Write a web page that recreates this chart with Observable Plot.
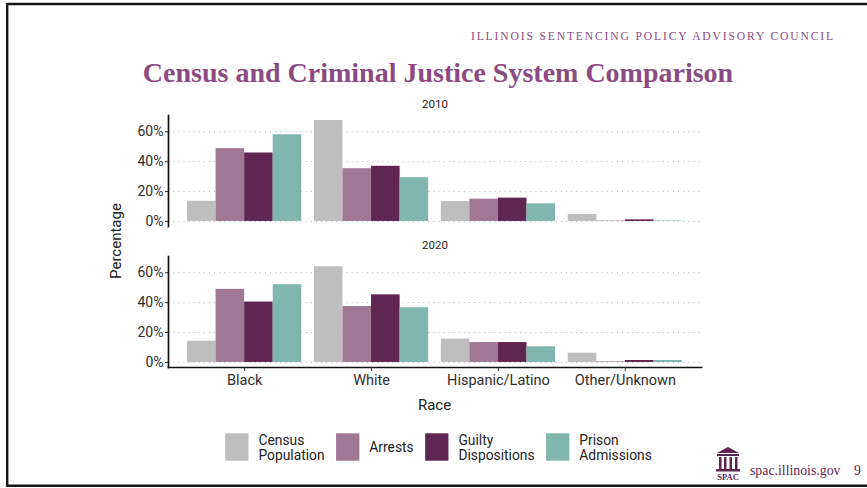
<!DOCTYPE html>
<html>
<head>
<meta charset="utf-8">
<script src="https://cdn.jsdelivr.net/npm/d3@7"></script>
<script src="https://cdn.jsdelivr.net/npm/@observablehq/plot@0.6"></script>
<style>
  html, body { margin: 0; padding: 0; background: #fff; }
  #page { position: relative; width: 867px; height: 488px; overflow: hidden; background: #fff; }
  #chart { position: absolute; left: 0; top: 90px; }
  #overlay { position: absolute; left: 0; top: 0; }
</style>
</head>
<body>
<div id="page">
  <div id="chart"></div>
  <svg id="overlay" width="867" height="488"></svg>
</div>
<script>
// ---- data ----
const races = ["Black", "White", "Hispanic/Latino", "Other/Unknown"];
const measures = ["Census Population", "Arrests", "Guilty Dispositions", "Prison Admissions"];
const legendLines = [["Census", "Population"], ["Arrests"], ["Guilty", "Dispositions"], ["Prison", "Admissions"]];
const years = [2010, 2020];

const census2010 = [13.5, 67.5, 13.3, 4.7];
const arrests2010 = [48.7, 35.3, 14.9, 0.3];
const guilty2010 = [45.8, 36.9, 15.6, 1.1];
const prison2010 = [58.0, 29.3, 11.8, 0.3];

const census2020 = [14.2, 64.0, 15.6, 6.2];
const arrests2020 = [48.9, 37.4, 13.3, 0.4];
const guilty2020 = [40.4, 45.2, 13.3, 1.3];
const prison2020 = [52.0, 36.6, 10.5, 1.3];

const yTicks = [0, 20, 40, 60];
const colors = ["#BEBEBE", "#A07894", "#5F2553", "#80B6AE"];
const purple = "#8B4B82";

// ---- table ----
const seriesByYear = new Map([
  [2010, [census2010, arrests2010, guilty2010, prison2010]],
  [2020, [census2020, arrests2020, guilty2020, prison2020]]
]);
const rows = [];
for (const year of years) {
  seriesByYear.get(year).forEach((vals, mi) => {
    vals.forEach((v, ri) => rows.push({year, race: races[ri], ri, measure: measures[mi], mi, value: v}));
  });
}
const groupWidth = 0.9;
const barW = groupWidth / measures.length;
const ymax = d3.max(rows, d => d.value);
const pad = ymax * 0.05;

const chart = Plot.plot({
  width: 867,
  height: 330,
  marginLeft: 168,
  marginRight: 166,
  marginTop: 24.7,
  marginBottom: 52.6,
  style: {fontFamily: "Roboto", background: "transparent", color: "#2e2e2e", overflow: "visible"},
  x: {domain: [1 - 0.6, races.length + 0.6], axis: null},
  y: {domain: [-pad, ymax + pad], axis: null},
  fy: {domain: years, axis: null, paddingInner: 0.2116, paddingOuter: 0},
  color: {domain: measures, range: colors},
  marks: [
    Plot.gridY(yTicks, {stroke: "#bcbcbc", strokeOpacity: 1, strokeWidth: 1, strokeDasharray: "1.2,3.9"}),
    Plot.rect(rows, {
      x1: d => d.ri + 1 - groupWidth / 2 + d.mi * barW,
      x2: d => d.ri + 1 - groupWidth / 2 + (d.mi + 1) * barW,
      y1: 0,
      y2: "value",
      fill: "measure",
      fy: "year"
    }),
    Plot.frame({anchor: "left", stroke: "#111", strokeWidth: 1.7}),
    Plot.frame({anchor: "bottom", facetAnchor: "bottom", stroke: "#111", strokeWidth: 1.7}),
    Plot.axisY(yTicks, {tickFormat: d => d + "%", tickSize: 3, tickPadding: 2, fontSize: 14, label: null}),
    Plot.axisX(d3.range(1, races.length + 1), {tickFormat: i => races[i - 1], tickSize: 4, tickPadding: 3, fontSize: 14.5, label: null}),
    Plot.text(years, {fy: d => d, text: d => String(d), frameAnchor: "top", lineAnchor: "middle", dy: -11, fontSize: 11.5, fill: "#222"})
  ]
});
document.getElementById("chart").appendChild(chart);

// ---- overlay: titles, labels, legend, footer, border ----
const svg = d3.select("#overlay");
// border
svg.append("line").attr("x1", 7).attr("x2", 867).attr("y1", 4).attr("y2", 4).attr("stroke", "#151515").attr("stroke-width", 2.4);
svg.append("line").attr("x1", 7.2).attr("x2", 7.2).attr("y1", 3).attr("y2", 487).attr("stroke", "#151515").attr("stroke-width", 2.4);
svg.append("line").attr("x1", 7).attr("x2", 867).attr("y1", 485.8).attr("y2", 485.8).attr("stroke", "#151515").attr("stroke-width", 2.4);

svg.append("text").attr("x", 835).attr("y", 40).attr("text-anchor", "end")
  .attr("font-family", "Liberation Serif").attr("font-size", 11.6).attr("letter-spacing", 1.85)
  .attr("fill", purple).text("ILLINOIS SENTENCING POLICY ADVISORY COUNCIL");

svg.append("text").attr("x", 438).attr("y", 82).attr("text-anchor", "middle")
  .attr("font-family", "Liberation Serif").attr("font-weight", "bold").attr("font-size", 28)
  .attr("fill", purple).text("Census and Criminal Justice System Comparison");

svg.append("text").attr("transform", "translate(121,241) rotate(-90)").attr("text-anchor", "middle")
  .attr("font-family", "Roboto").attr("font-size", 15).attr("fill", "#222").text("Percentage");

svg.append("text").attr("x", 434.5).attr("y", 410).attr("text-anchor", "middle")
  .attr("font-family", "Roboto").attr("font-size", 15).attr("fill", "#222").text("Race");

// legend
const lg = svg.append("g");
let lx = 0;
const swW = 23.3, swH = 27.4, gapIn = 10, gapOut = 11.5;
const lfs = 13.8, lsp = 15.4;
measures.forEach((m, i) => {
  lg.append("rect").attr("x", lx).attr("y", 433.3).attr("width", swW).attr("height", swH).attr("fill", colors[i]);
  const lines = legendLines[i];
  let w = 0;
  lines.forEach((s, k) => {
    const y0 = lines.length === 1 ? 452.3 : 444.8 + k * lsp;
    const t = lg.append("text").attr("x", lx + swW + gapIn).attr("y", y0)
      .attr("font-family", "Roboto").attr("font-size", lfs).attr("fill", "#222").text(s);
    w = Math.max(w, t.node().getComputedTextLength());
  });
  lx += swW + gapIn + w + gapOut;
});
const totalW = lx - gapOut;
lg.attr("transform", `translate(${438.5 - totalW / 2},0)`);

// footer icon
const ic = svg.append("g").attr("transform", "translate(716,446)").attr("fill", "#5F2553");
ic.append("path").attr("d", "M1 7 L12 1 L23 7 Z");
ic.append("rect").attr("x", 1).attr("y", 8).attr("width", 22).attr("height", 2);
[3, 8, 13.5, 19].forEach(cx => ic.append("rect").attr("x", cx).attr("y", 11).attr("width", 2.5).attr("height", 12));
ic.append("rect").attr("x", 0).attr("y", 23).attr("width", 24).attr("height", 2.5);
ic.append("text").attr("x", 12).attr("y", 34).attr("text-anchor", "middle").attr("font-family", "Liberation Serif")
  .attr("font-weight", "bold").attr("font-size", 8.5).text("SPAC");

svg.append("text").attr("x", 750).attr("y", 474.5).attr("font-family", "Liberation Serif").attr("font-size", 13.8)
  .attr("fill", "#5F2553").text("spac.illinois.gov");
svg.append("text").attr("x", 857.5).attr("y", 474.5).attr("text-anchor", "middle").attr("font-family", "Liberation Serif").attr("font-size", 13.8)
  .attr("fill", "#5F2553").text("9");
</script>
</body>
</html>
